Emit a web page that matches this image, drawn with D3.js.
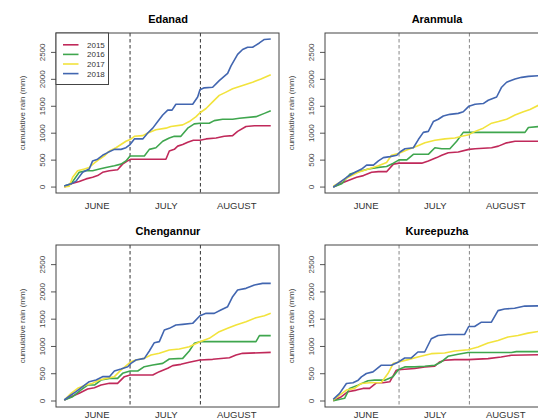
<!DOCTYPE html>
<html lang="en">

<head>
    <meta charset="UTF-8">
    <title>cumulative rain</title>
    <style>
        body {
            margin: 0;
            background: #fff;
        }

        svg {
            display: block;
            font-family: "Liberation Sans", Arial, sans-serif;
        }
    </style>
</head>

<body>
    <svg width="538" height="419"></svg>

    <script src="https://d3js.org/d3.v7.min.js"></script>
    <script>
        // data: [day since 31 May, cumulative rain in mm]
        const years = ["2015", "2016", "2017", "2018"];
        const colors = ["#c0295a", "#3fa64e", "#f2e33c", "#4266b0"];
        const months = ["JUNE", "JULY", "AUGUST"];
        const monthMid = [15.5, 46, 77];
        const monthBreaks = [30, 61];
        const yTicks = [0, 500, 1000, 1500, 2000, 2500];

        const edanad2015 = [[1, 0], [4, 60], [7.6, 103], [10.6, 152], [13.5, 182], [15.7, 213], [17.9, 274], [20.9, 304], [24.5, 322], [26.7, 426], [28.9, 486], [30.4, 517], [45.8, 517], [47.3, 669], [49.5, 700], [51, 760], [53.2, 790], [55.4, 833], [57.9, 870], [60.8, 870], [63.5, 894], [67.9, 912], [71.5, 942], [75.2, 955], [77.4, 1034], [81.1, 1125], [84.8, 1137], [92, 1137]];
        const edanad2016 = [[1, 18], [4, 60], [7.6, 274], [10.6, 304], [13.5, 304], [16.5, 334], [19.4, 365], [23.1, 395], [26, 426], [28.2, 486], [30, 578], [36.3, 578], [38.5, 700], [41.4, 730], [44.4, 851], [47.3, 912], [49.5, 942], [52.4, 942], [55.4, 1094], [58.3, 1173], [60.8, 1186], [64.9, 1186], [67.1, 1234], [70.8, 1259], [75.2, 1259], [78.2, 1277], [85.5, 1307], [89.2, 1368], [92, 1417]];
        const edanad2017 = [[1, 0], [3.2, 18], [4.7, 182], [6.9, 304], [9.9, 334], [12, 365], [14.2, 444], [16.5, 517], [18.7, 578], [20.9, 669], [23.8, 730], [26, 790], [28.2, 851], [30, 882], [31.9, 942], [35.6, 955], [37.8, 1003], [41.4, 1064], [45.8, 1094], [48, 1125], [53.2, 1155], [56.1, 1216], [59.1, 1307], [60.8, 1380], [63.5, 1459], [66.4, 1581], [69.3, 1702], [72.3, 1763], [75.2, 1824], [79.6, 1885], [84, 1946], [87.7, 2006], [92, 2085]];
        const edanad2018 = [[1, 18], [4, 60], [6.2, 110], [9.1, 275], [12, 335], [13.5, 486], [15.7, 517], [17.9, 590], [20.1, 640], [23.1, 700], [26, 700], [28.2, 730], [30, 790], [31.9, 894], [35.6, 894], [37.8, 1003], [40, 1094], [42.2, 1216], [44.4, 1338], [46.6, 1429], [48.5, 1429], [50.2, 1538], [57.6, 1538], [59.8, 1672], [60.8, 1806], [62.7, 1842], [66.4, 1854], [69.3, 1976], [73, 2110], [74.5, 2250], [77.4, 2462], [79.6, 2554], [81.8, 2596], [84, 2596], [87, 2675], [89.2, 2740], [92, 2748]];

        const aranmula2015 = [[1, 0], [4, 60], [7.6, 122], [11.3, 182], [14.3, 213], [17.9, 274], [20.9, 286], [24.5, 286], [27.5, 426], [30, 444], [40, 444], [42.9, 486], [46.6, 547], [48.8, 590], [51.7, 638], [56.1, 651], [60.8, 700], [63.5, 711], [70.8, 730], [73.8, 760], [77.4, 821], [81.1, 851], [92, 851]];
        const aranmula2016 = [[1, 0], [4.7, 60], [8.4, 243], [12, 286], [16.5, 334], [20.9, 365], [24.5, 383], [27.5, 444], [30, 505], [33.4, 505], [36.3, 608], [42.9, 608], [45.8, 730], [48.8, 711], [52.4, 711], [55.4, 851], [58.3, 1015], [85.5, 1015], [87, 1107], [92, 1125]];
        const aranmula2017 = [[1, 18], [4, 91], [7.6, 182], [12, 274], [16.5, 334], [20.9, 395], [24.5, 456], [26.7, 590], [30, 626], [33.4, 687], [37.8, 760], [41.4, 821], [45.8, 870], [50.2, 894], [54.6, 912], [57.6, 942], [60.8, 973], [63.5, 1034], [67.1, 1094], [70.8, 1186], [73.8, 1216], [77.4, 1259], [81.1, 1338], [84.8, 1398], [87.7, 1441], [92, 1530]];
        const aranmula2018 = [[1, 0], [4, 91], [6.9, 182], [10.6, 274], [13.5, 334], [15.7, 407], [18.7, 407], [20.9, 486], [23.1, 547], [26, 565], [29, 590], [30.4, 651], [32.6, 711], [36.3, 730], [38.5, 882], [40.7, 1015], [42.9, 1034], [45.1, 1216], [47.3, 1259], [49.5, 1319], [52.4, 1350], [56.1, 1368], [58.3, 1398], [60.8, 1502], [63.5, 1538], [67.1, 1550], [69.3, 1611], [73, 1672], [75.2, 1854], [77.4, 1946], [81.1, 2006], [84, 2037], [87, 2055], [92, 2070]];

        const chengannur2015 = [[1, 18], [4, 79], [7.6, 141], [11.3, 220], [14.3, 244], [17.2, 293], [20.9, 324], [24.5, 324], [27.5, 446], [30, 477], [40, 477], [42.9, 538], [46.6, 599], [48.8, 648], [52.4, 672], [56.1, 709], [60.8, 752], [66.4, 764], [73.8, 794], [76.7, 843], [79.6, 874], [92, 892]];
        const chengannur2016 = [[1, 18], [4.7, 79], [8.4, 202], [11.3, 293], [14.3, 293], [17.2, 385], [20.9, 415], [24.5, 415], [26.7, 507], [30, 550], [33.4, 550], [36.3, 629], [40, 660], [44.4, 690], [47.3, 770], [53.2, 782], [56.1, 917], [58.3, 1057], [60.8, 1088], [85.5, 1088], [87, 1198], [92, 1198]];
        const chengannur2017 = [[1, 18], [4, 141], [6.9, 232], [10.6, 293], [13.5, 324], [16.5, 385], [19.4, 415], [23.1, 446], [26, 568], [29, 672], [30.4, 721], [32.6, 752], [36.3, 782], [39.2, 843], [42.9, 874], [47.3, 935], [51.7, 953], [56.1, 996], [60.8, 1088], [64.9, 1149], [69.3, 1271], [73, 1332], [76.7, 1393], [81.1, 1454], [85.5, 1528], [89.2, 1564], [92, 1607]];
        const chengannur2018 = [[1, 18], [4, 110], [6.2, 171], [9.1, 263], [12, 354], [15, 385], [17.9, 446], [20.9, 446], [23.1, 550], [26, 587], [29, 629], [30.4, 690], [32.6, 752], [36.3, 782], [38.5, 917], [40.7, 1069], [42.9, 1088], [45.1, 1301], [47.3, 1332], [50.2, 1393], [53.2, 1405], [57.6, 1424], [60.8, 1564], [63.5, 1607], [67.1, 1607], [70, 1668], [73, 1729], [75.2, 1912], [77.4, 2035], [81.1, 2065], [84.8, 2126], [88.4, 2157], [92, 2157]];

        const kureepuzha2015 = [[1, 6], [4.6, 79], [7.5, 170], [11.2, 200], [14.1, 231], [17, 231], [20, 334], [22.9, 334], [25.9, 352], [28.8, 565], [31, 577], [36.9, 595], [41.3, 625], [45.7, 637], [47.9, 716], [50.1, 747], [54.5, 759], [60.4, 759], [69.2, 777], [75, 807], [79.5, 838], [92, 850]];
        const kureepuzha2016 = [[1, 6], [6, 49], [8.2, 231], [11.9, 291], [16.3, 370], [19.2, 382], [23.7, 382], [27.3, 443], [29.8, 577], [32.5, 625], [36.9, 625], [41.3, 637], [45.7, 656], [48.6, 716], [51.6, 819], [56, 856], [60.4, 890], [79.5, 890], [81.7, 905], [92, 905]];
        const kureepuzha2017 = [[1, 18], [3.8, 109], [6.8, 200], [10.4, 231], [13.4, 322], [17, 334], [22.2, 340], [25.1, 504], [27.4, 686], [29.8, 716], [34, 759], [38.3, 807], [44.2, 868], [50.1, 880], [54.5, 917], [60.4, 941], [64.8, 989], [69.2, 1062], [73.6, 1111], [78, 1172], [82.4, 1202], [86.8, 1244], [92, 1280]];
        const kureepuzha2018 = [[1, 30], [3.8, 140], [6.8, 322], [9.7, 334], [12, 382], [13.4, 443], [15.6, 504], [18.5, 534], [22.2, 656], [26.6, 656], [29.8, 716], [32.5, 789], [35.4, 789], [38.3, 898], [41.3, 898], [44.2, 1141], [47.2, 1202], [51.6, 1220], [58.9, 1220], [60.7, 1366], [63.3, 1366], [66.3, 1445], [70.7, 1445], [73.6, 1657], [76.5, 1687], [80.9, 1700], [85.4, 1740], [92, 1745]];

        const panels = [
            { name: "Edanad", left: 56, top: 33, h: 160, titleY: 23, monthY: 208.5, dash: "#333", series: [edanad2015, edanad2016, edanad2017, edanad2018], legend: true },
            { name: "Aranmula", left: 325, top: 33, h: 160, titleY: 23, monthY: 208.5, dash: "#888", series: [aranmula2015, aranmula2016, aranmula2017, aranmula2018] },
            { name: "Chengannur", left: 56, top: 245, h: 162, titleY: 235, monthY: 417.5, dash: "#333", series: [chengannur2015, chengannur2016, chengannur2017, chengannur2018] },
            { name: "Kureepuzha", left: 325, top: 245, h: 162, titleY: 235, monthY: 417.5, dash: "#888", series: [kureepuzha2015, kureepuzha2016, kureepuzha2017, kureepuzha2018] }
        ];

        const svg = d3.select("svg");
        const boxW = 223;
        const yMax = 2750;

        panels.forEach(p => {
            // R style 4% padding
            const x = d3.scaleLinear().domain([1 - 0.04 * 91, 92 + 0.04 * 91]).range([p.left, p.left + boxW]);
            const y = d3.scaleLinear().domain([-0.04 * yMax, yMax * 1.04]).range([p.top + p.h, p.top]);
            const g = svg.append("g");

            g.append("text")
                .attr("x", p.left + boxW / 2 + 0.5)
                .attr("y", p.titleY)
                .attr("text-anchor", "middle")
                .style("font-size", "11px")
                .style("font-weight", "bold")
                .text(p.name);

            // y axis ticks + rotated labels
            g.selectAll(".tick")
                .data(yTicks)
                .enter()
                .append("line")
                .attr("x1", p.left - 5)
                .attr("x2", p.left)
                .attr("y1", d => y(d))
                .attr("y2", d => y(d))
                .attr("stroke", "#555");

            g.selectAll(".ylab")
                .data(yTicks)
                .enter()
                .append("text")
                .attr("transform", d => "translate(" + (p.left - 11) + "," + y(d) + ") rotate(-90)")
                .attr("text-anchor", "middle")
                .style("font-size", "8px")
                .style("fill", "#444")
                .text(d => d);

            g.append("text")
                .attr("transform", "translate(" + (p.left - 31) + "," + (p.top + p.h / 2) + ") rotate(-90)")
                .attr("text-anchor", "middle")
                .style("font-size", "8px")
                .style("fill", "#444")
                .text("cumulative rain (mm)");

            g.selectAll(".month")
                .data(months)
                .enter()
                .append("text")
                .attr("x", (d, i) => x(monthMid[i]))
                .attr("y", p.monthY)
                .attr("text-anchor", "middle")
                .style("font-size", "9.5px")
                .style("fill", "#333")
                .text(d => d);

            // month separators
            g.selectAll(".sep")
                .data(monthBreaks)
                .enter()
                .append("line")
                .attr("x1", d => x(d))
                .attr("x2", d => x(d))
                .attr("y1", p.top)
                .attr("y2", p.top + p.h)
                .attr("stroke", p.dash)
                .attr("stroke-dasharray", "3.5,2.5");

            const line = d3.line().x(d => x(d[0])).y(d => y(d[1]));

            g.selectAll(".series")
                .data(p.series)
                .enter()
                .append("path")
                .attr("d", line)
                .attr("fill", "none")
                .attr("stroke", (d, i) => colors[i])
                .attr("stroke-width", 1.6)
                .attr("stroke-linejoin", "round");

            g.append("rect")
                .attr("x", p.left)
                .attr("y", p.top)
                .attr("width", boxW)
                .attr("height", p.h)
                .attr("fill", "none")
                .attr("stroke", "#444");

            if (p.legend) {
                const lg = g.append("g");
                lg.append("rect")
                    .attr("x", p.left)
                    .attr("y", p.top)
                    .attr("width", 52.5)
                    .attr("height", 51.5)
                    .attr("fill", "#fff")
                    .attr("stroke", "#444");
                years.forEach((yr, i) => {
                    const ly = p.top + 11.8 + i * 9.6;
                    lg.append("line")
                        .attr("x1", p.left + 7)
                        .attr("x2", p.left + 22.5)
                        .attr("y1", ly)
                        .attr("y2", ly)
                        .attr("stroke", colors[i])
                        .attr("stroke-width", 1.6);
                    lg.append("text")
                        .attr("x", p.left + 31)
                        .attr("y", ly + 3)
                        .style("font-size", "8px")
                        .style("fill", "#333")
                        .text(yr);
                });
            }
        });
    </script>
</body>

</html>
